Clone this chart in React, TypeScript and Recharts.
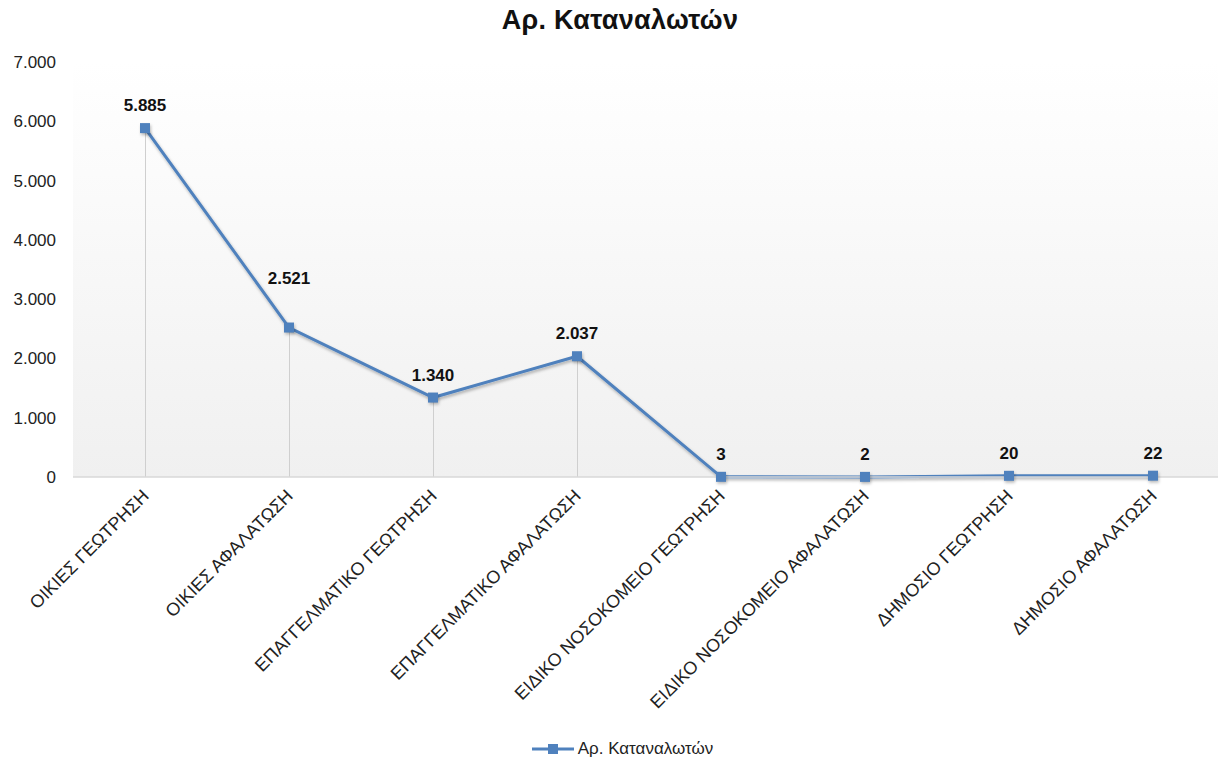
import React from 'react';
import { ComposedChart, Line, Bar, XAxis, YAxis, CartesianGrid, Legend, LabelList } from 'recharts';

const categories = [
  'ΟΙΚΙΕΣ ΓΕΩΤΡΗΣΗ',
  'ΟΙΚΙΕΣ ΑΦΑΛΑΤΩΣΗ',
  'ΕΠΑΓΓΕΛΜΑΤΙΚΟ ΓΕΩΤΡΗΣΗ',
  'ΕΠΑΓΓΕΛΜΑΤΙΚΟ ΑΦΑΛΑΤΩΣΗ',
  'ΕΙΔΙΚΟ ΝΟΣΟΚΟΜΕΙΟ ΓΕΩΤΡΗΣΗ',
  'ΕΙΔΙΚΟ ΝΟΣΟΚΟΜΕΙΟ ΑΦΑΛΑΤΩΣΗ',
  'ΔΗΜΟΣΙΟ ΓΕΩΤΡΗΣΗ',
  'ΔΗΜΟΣΙΟ ΑΦΑΛΑΤΩΣΗ',
];
const consumers = [5885, 2521, 1340, 2037, 3, 2, 20, 22];
const yTicks = [0, 1000, 2000, 3000, 4000, 5000, 6000, 7000];
const seriesName = 'Αρ. Καταναλωτών';

const data = categories.map((c, i) => ({ cat: c, value: consumers[i] }));

const fmt = (v: number) => String(v).replace(/\B(?=(\d{3})+(?!\d))/g, '.');

const FONT = 'Arial, "Liberation Sans", sans-serif';
const BLUE = '#4f81bd';

// rotated category labels, ending at the tick
const XTick = (props: any) => {
  const { x, y, payload } = props;
  return (
    <g transform={`translate(${x + 5},${y + 12})`}>
      <text transform="rotate(-45)" textAnchor="end" fontSize={18} fontFamily={FONT} fill="#222">
        {payload.value}
      </text>
    </g>
  );
};

const SquareDot = (props: any) => {
  const { cx, cy } = props;
  if (cx == null || cy == null) return null;
  return (
    <g>
      <rect x={cx - 4} y={cy - 3} width={10} height={10} fill="rgba(0,0,0,0.25)" filter="url(#blur)" />
      <rect x={cx - 5} y={cy - 5} width={10} height={10} fill={BLUE} />
    </g>
  );
};

// Excel pushed the second label up, away from the steep segment
const ValueLabel = (props: any) => {
  const { x, y, width, value, index } = props;
  const lift = index === 1 ? 44 : 17;
  return (
    <text x={x + (width || 0) / 2} y={y - lift} textAnchor="middle" fontSize={17} fontWeight={700} fontFamily={FONT} fill="#111">
      {fmt(Number(value))}
    </text>
  );
};

const LegendContent = () => (
  <div style={{ display: 'flex', justifyContent: 'center', alignItems: 'center', paddingTop: 12, paddingLeft: 20, fontFamily: FONT, fontSize: 17, color: '#222' }}>
    <svg width={42} height={12} style={{ marginRight: 4 }}>
      <line x1={0} y1={6} x2={42} y2={6} stroke={BLUE} strokeWidth={3} />
      <rect x={16} y={1} width={10} height={10} fill={BLUE} />
    </svg>
    <span>{seriesName}</span>
  </div>
);

export default function App() {
  return (
    <div style={{ position: 'absolute', left: 0, top: 0, width: 1218, height: 763, background: '#fff', overflow: 'hidden' }}>
      <div style={{ position: 'absolute', top: 5, left: 0, width: 1218, paddingLeft: 22, boxSizing: 'border-box', textAlign: 'center', fontFamily: FONT, fontWeight: 700, fontSize: 27, letterSpacing: 0.3, color: '#111' }}>
        {seriesName}
      </div>
      <ComposedChart width={1218} height={763} data={data} margin={{ top: 62, right: -7, left: 0, bottom: 0 }}>
        <defs>
          <linearGradient id="bg" x1="0" y1="0" x2="0" y2="1">
            <stop offset="0%" stopColor="#ffffff" />
            <stop offset="100%" stopColor="#f0f0f0" />
          </linearGradient>
          <filter id="blur" x="-50%" y="-50%" width="200%" height="200%">
            <feGaussianBlur stdDeviation="1.5" />
          </filter>
          <filter id="lineShadow" x="-5%" y="-5%" width="110%" height="120%">
            <feDropShadow dx="1" dy="2" stdDeviation="1.5" floodColor="#000" floodOpacity="0.3" />
          </filter>
        </defs>
        <CartesianGrid horizontal={false} vertical={false} fill="url(#bg)" stroke="none" />
        <XAxis
          dataKey="cat"
          interval={0}
          height={250}
          tick={<XTick />}
          tickLine={false}
          axisLine={{ stroke: '#d9d9d9', strokeWidth: 1.5 }}
        />
        <YAxis
          width={73}
          domain={[0, 7000]}
          ticks={yTicks}
          tickFormatter={fmt}
          axisLine={false}
          tickLine={false}
          tick={{ fontSize: 17, fontFamily: FONT, fill: '#222' }}
          tickMargin={11}
        />
        <Legend verticalAlign="bottom" height={36} content={<LegendContent />} />
        <Bar dataKey="value" barSize={1} fill="#cfcfcf" isAnimationActive={false} legendType="none" />
        <Line
          type="linear"
          dataKey="value"
          name={seriesName}
          stroke={BLUE}
          strokeWidth={3}
          dot={<SquareDot />}
          activeDot={false}
          filter="url(#lineShadow)"
          isAnimationActive={false}
        >
          <LabelList dataKey="value" content={<ValueLabel />} />
        </Line>
      </ComposedChart>
    </div>
  );
}
